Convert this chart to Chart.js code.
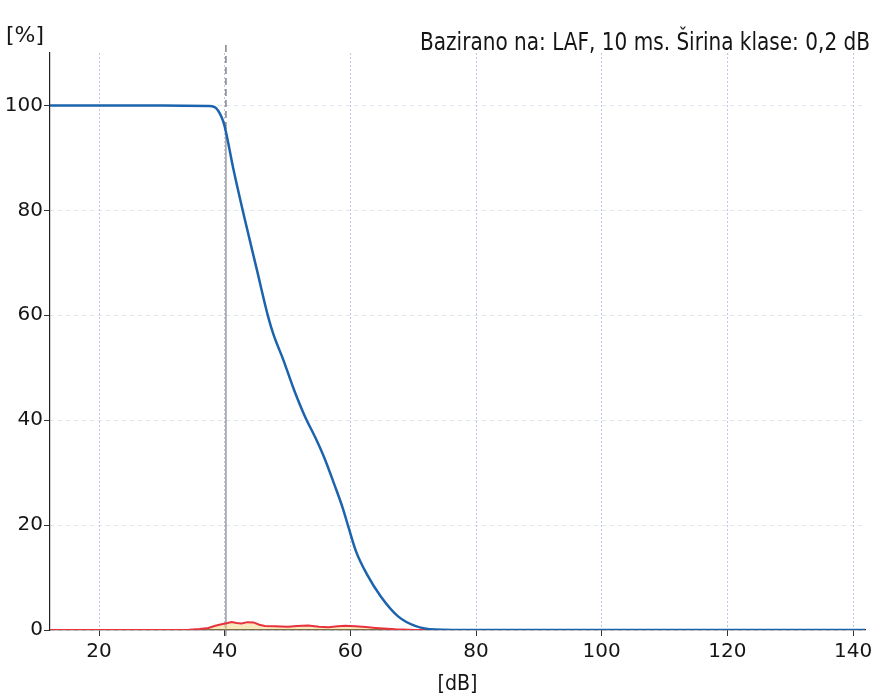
<!DOCTYPE html>
<html>
<head>
<meta charset="utf-8">
<script src="https://cdn.jsdelivr.net/npm/chart.js@4.4.0/dist/chart.umd.min.js"></script>
<style>
  body { margin: 0; background: #fff; }
  #wrap { width: 881px; height: 697px; }
</style>
</head>
<body>
<div id="wrap"><canvas id="chart" width="881" height="697"></canvas></div>
<script>
// cumulative level distribution (blue) and level histogram (red)
const blueDb = [12.2, 20, 30, 37.4, 38.4, 39.5, 40.0, 41.4, 43.2, 45.1, 46.9, 47.8, 49.3, 51.0, 52.7,
    54.5, 55.9, 57.4, 58.8, 59.7, 60.9, 62.6, 64.9, 67.6, 70.3, 73.5, 80, 100, 120, 141.9];
const bluePct = [100, 100, 100, 99.9, 99.7, 97.8, 96, 87.8, 78.3, 68.8, 59.8, 56.2, 51.6, 45.9, 40.9,
    36.5, 32.7, 27.9, 23.2, 19.6, 15.0, 10.7, 6.3, 2.6, 0.8, 0.1, 0, 0, 0, 0];

const redDb = [12.2, 30, 34.3, 36, 37.4, 38.5, 39.5, 40.3, 41.1, 41.9, 42.7, 43.6, 44.6, 45.5, 46.4,
    48, 50.1, 51.5, 53.3, 55, 56.5, 58, 59.2, 60.8, 62.5, 64, 67.2, 70.3, 73, 141.9];
const redPct = [0, 0, 0.05, 0.2, 0.4, 0.8, 1.1, 1.3, 1.5, 1.35, 1.25, 1.5, 1.45, 1.0, 0.77,
    0.7, 0.6, 0.75, 0.86, 0.6, 0.53, 0.7, 0.82, 0.7, 0.55, 0.4, 0.13, 0, 0, 0];

const xTicks = [20, 40, 60, 80, 100, 120, 140];
const yTicks = [0, 20, 40, 60, 80, 100];
const markerDb = 40.2;

const titleText = 'Bazirano na: LAF, 10 ms. Širina klase: 0,2 dB';
const xTitle = '[dB]';
const yTitle = '[%]';

const toPoints = (xs, ys) => xs.map((x, i) => ({ x, y: ys[i] }));
const tickFont = { family: 'DejaVu Sans', size: 20 };

// marker line + texts
const extras = {
    id: 'extras',
    beforeDatasetsDraw(chart) {
        const { ctx, chartArea, scales } = chart;
        const x = scales.x.getPixelForValue(markerDb);
        const yCut = scales.y.getPixelForValue(95);
        ctx.save();
        ctx.strokeStyle = '#444';
        ctx.lineWidth = 1;
        ctx.setLineDash([7, 4]);
        ctx.beginPath();
        ctx.moveTo(x, chartArea.top - 8);
        ctx.lineTo(x, yCut);
        ctx.stroke();
        ctx.setLineDash([]);
        ctx.strokeStyle = '#6a6a6a';
        ctx.beginPath();
        ctx.moveTo(x, yCut);
        ctx.lineTo(x, chartArea.bottom + 6);
        ctx.stroke();
        ctx.restore();
    },
    afterDraw(chart) {
        const { ctx, chartArea } = chart;
        ctx.save();
        ctx.fillStyle = '#151515';
        ctx.textBaseline = 'middle';
        ctx.font = '24px "DejaVu Sans"';
        ctx.textAlign = 'right';
        ctx.fillText(titleText, 870, 44, 450);
        ctx.textAlign = 'left';
        ctx.font = '22px "DejaVu Sans"';
        ctx.fillText(yTitle, 6, 36, 38);
        ctx.textAlign = 'center';
        ctx.fillText(xTitle, (chartArea.left + chartArea.right) / 2, 684, 40);
        ctx.restore();
    },
};

new Chart(document.getElementById('chart'), {
    type: 'line',
    data: {
        datasets: [
            {
                data: toPoints(blueDb, bluePct),
                borderColor: '#1c63ad',
                borderWidth: 2.5,
                cubicInterpolationMode: 'monotone',
                pointRadius: 0,
                fill: false,
            },
            {
                data: toPoints(redDb, redPct),
                borderColor: '#e8323c',
                borderWidth: 2,
                tension: 0,
                pointRadius: 0,
                fill: 'origin',
                backgroundColor: 'rgba(238, 205, 110, 0.45)',
            },
        ],
    },
    options: {
        responsive: false,
        animation: false,
        layout: { padding: { left: 0, top: 53, right: 16, bottom: 0 } },
        plugins: {
            legend: { display: false },
            tooltip: { enabled: false },
        },
        scales: {
            x: {
                type: 'linear',
                min: 12.2,
                max: 141.9,
                afterBuildTicks: (s) => { s.ticks = xTicks.map((v) => ({ value: v })); },
                afterFit: (s) => { s.height = 67; },
                ticks: { font: tickFont, color: '#151515', padding: 4, maxRotation: 0 },
                grid: {
                    color: 'rgba(170, 185, 225, 0.8)',
                    tickColor: '#333',
                    tickLength: 6,
                },
                border: { display: true, color: '#222', width: 1.2, dash: [2, 2] },
            },
            y: {
                min: 0,
                max: 110,
                afterBuildTicks: (s) => { s.ticks = yTicks.map((v) => ({ value: v })); },
                afterFit: (s) => { s.width = 50; },
                ticks: { font: tickFont, color: '#151515', padding: 1 },
                grid: {
                    color: 'rgba(205, 212, 228, 0.6)',
                    tickColor: '#333',
                    tickLength: 6,
                },
                border: { display: true, color: '#222', width: 1.2, dash: [4, 4] },
            },
        },
    },
    plugins: [extras],
});
</script>
</body>
</html>
